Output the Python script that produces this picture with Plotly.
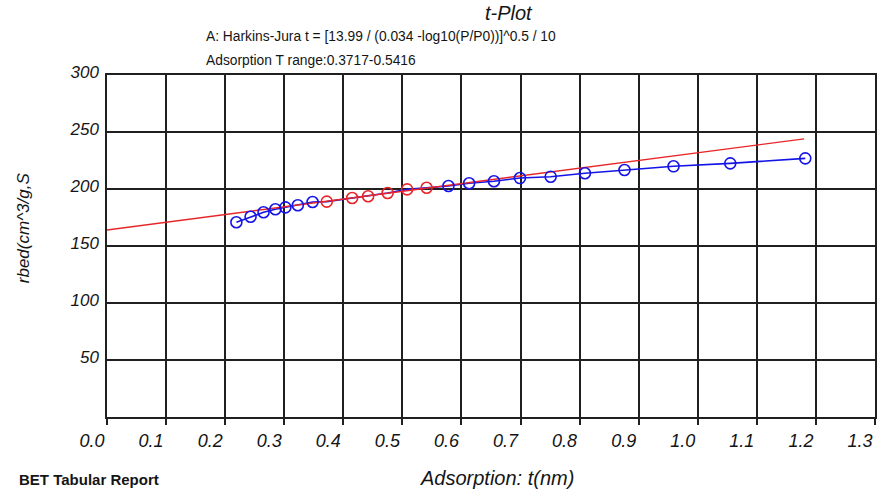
import plotly.graph_objects as go

# Adsorption branch of the t-plot: statistical thickness t (nm) and quantity adsorbed
t_nm = [0.219, 0.243, 0.265, 0.285, 0.302, 0.323, 0.348,
        0.372, 0.415, 0.442, 0.475, 0.508, 0.541,
        0.578, 0.613, 0.655, 0.699, 0.751, 0.809, 0.876, 0.959, 1.055, 1.182]
q_ads = [170.8, 175.7, 179.6, 182.2, 183.9, 185.7, 188.6,
         188.9, 192.1, 193.6, 196.5, 199.7, 201.1,
         202.6, 205.0, 206.8, 209.6, 210.8, 213.8, 216.7, 219.9, 222.5, 226.9]

# Thickness range used for the linear fit
t_range = (0.3717, 0.5416)

# End points of the fitted straight line
fit_t = [0.0, 1.18]
fit_q = [164.0, 244.0]

x_ticks = [round(0.1 * i, 1) for i in range(14)]
y_ticks = [50, 100, 150, 200, 250, 300]

BLUE = "#1414e6"
RED = "#e8262a"
GRID = "#202020"
TEXT = "#151515"
FONT = "Liberation Sans"

in_range = [t_range[0] <= t <= t_range[1] for t in t_nm]
marker_colors = [RED if r else BLUE for r in in_range]

fig = go.Figure()

# Measured isotherm points joined by a line
fig.add_trace(go.Scatter(
    x=t_nm, y=q_ads, mode="lines",
    line=dict(color=BLUE, width=1.6),
    showlegend=False, hoverinfo="skip",
))

# Fitted line over the selected thickness range
fig.add_trace(go.Scatter(
    x=fit_t, y=fit_q, mode="lines",
    line=dict(color=RED, width=1.4),
    showlegend=False,
))

# Point markers, red inside the fit range
fig.add_trace(go.Scatter(
    x=t_nm, y=q_ads, mode="markers",
    marker=dict(symbol="circle-open", size=11, color=marker_colors,
                line=dict(width=1.6)),
    showlegend=False,
))

fig.update_xaxes(
    range=[0, 1.3], tickvals=x_ticks, tickformat=".1f",
    showgrid=True, gridcolor=GRID, gridwidth=1.5,
    showline=True, linecolor=GRID, linewidth=1.5, mirror=True,
    ticks="outside", ticklen=6, tickwidth=1.5, tickcolor=GRID,
    ticklabelshift=-15, ticklabelstandoff=1,
    zeroline=False,
    tickfont=dict(family=FONT, size=18, color=TEXT, style="italic"),
)
fig.update_yaxes(
    range=[0, 300], tickvals=y_ticks,
    showgrid=True, gridcolor=GRID, gridwidth=1.5,
    showline=True, linecolor=GRID, linewidth=1.5, mirror=True,
    ticks="", ticklabelstandoff=3, ticklabelshift=-3,
    zeroline=False,
    tickfont=dict(family=FONT, size=17, color=TEXT, style="italic"),
)

annotations = [
    dict(text="t-Plot", x=510, y=13, font=dict(size=20, style="italic")),
    dict(text="A: Harkins-Jura t = [13.99 / (0.034 -log10(P/P0))]^0.5 / 10",
         x=204, y=36, xanchor="left", font=dict(size=13.8)),
    dict(text="Adsorption T range:0.3717-0.5416",
         x=204, y=60, xanchor="left", font=dict(size=13.8)),
    dict(text="Adsorption: t(nm)", x=498, y=478, font=dict(size=20, style="italic")),
    dict(text="rbed(cm^3/g,S", x=24, y=228, textangle=-90,
         font=dict(size=17, style="italic")),
    dict(text="<b>BET Tabular Report</b>", x=17, y=480, xanchor="left",
         font=dict(size=15)),
]

W, H = 878, 490
ML, MR, MT, MB = 107, 1, 75, 73
pw, ph = W - ML - MR, H - MT - MB
for a in annotations:
    px, py = a.pop("x"), a.pop("y")
    a.setdefault("xanchor", "center")
    a.setdefault("yanchor", "middle")
    a["font"] = dict(family=FONT, color=TEXT, **a["font"])
    fig.add_annotation(
        xref="paper", yref="paper",
        x=(px - ML) / pw, y=(H - MB - py) / ph,
        showarrow=False, **a,
    )

fig.update_layout(
    width=W, height=H,
    margin=dict(l=ML, r=MR, t=MT, b=MB),
    paper_bgcolor="white", plot_bgcolor="white",
    font=dict(family=FONT, color=TEXT),
)

fig.write_html("out.html")
